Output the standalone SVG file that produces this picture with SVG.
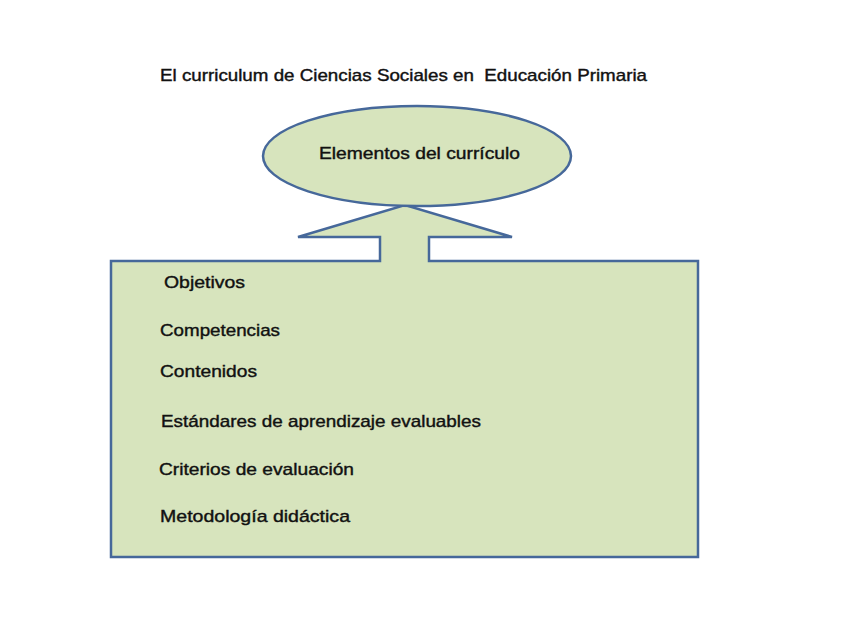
<svg xmlns="http://www.w3.org/2000/svg" width="848" height="636" viewBox="0 0 848 636">
<style>
.shape{fill:#D7E4BD;stroke:#46689A;stroke-width:2.5;stroke-linejoin:miter}
text{font-family:"Liberation Sans","Noto Sans",Arial,sans-serif;font-size:17px;fill:#111;stroke:#111;stroke-width:0.4;white-space:pre}
</style>
<rect width="848" height="636" fill="#fff"/>
<text x="160" y="81" textLength="487" lengthAdjust="spacingAndGlyphs" xml:space="preserve">El curriculum de Ciencias Sociales en  Educación Primaria</text>
<g id="connectors"></g>
<g id="box">
<path class="shape" d="M111,261 L380,261 L380,237 L298,237 L405,205 L512,237 L429,237 L429,261 L698,261 L698,557 L111,557 Z"/>
<text x="164" y="288" textLength="81" lengthAdjust="spacingAndGlyphs">Objetivos</text>
<text x="160" y="336" textLength="120" lengthAdjust="spacingAndGlyphs">Competencias</text>
<text x="160" y="377" textLength="97" lengthAdjust="spacingAndGlyphs">Contenidos</text>
<text x="161" y="427" textLength="320" lengthAdjust="spacingAndGlyphs">Estándares de aprendizaje evaluables</text>
<text x="159" y="475" textLength="195" lengthAdjust="spacingAndGlyphs">Criterios de evaluación</text>
<text x="160" y="522" textLength="190" lengthAdjust="spacingAndGlyphs">Metodología didáctica</text>
</g>
<g id="ellipse">
<ellipse class="shape" cx="417" cy="156" rx="154" ry="50"/>
<text x="319" y="159" textLength="201" lengthAdjust="spacingAndGlyphs">Elementos del currículo</text>
</g>
</svg>
